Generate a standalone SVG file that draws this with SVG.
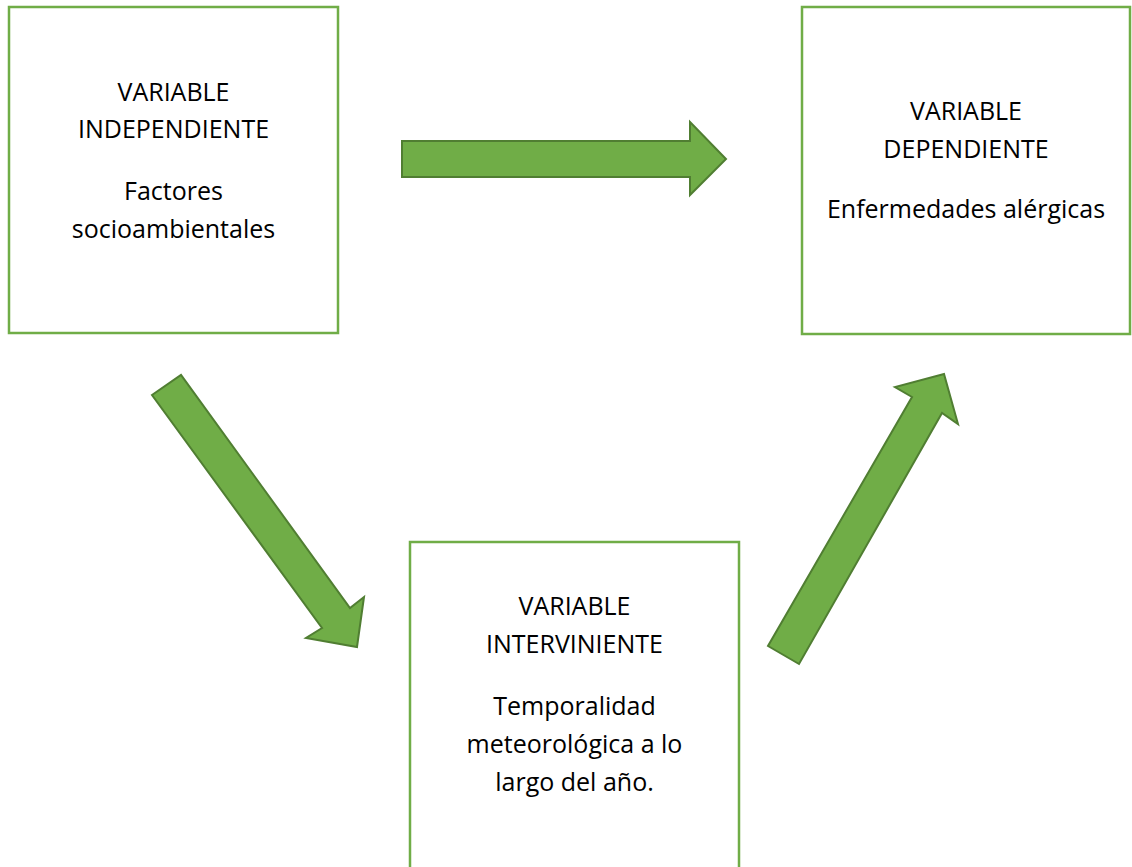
<svg xmlns="http://www.w3.org/2000/svg" width="1132" height="867" viewBox="0 0 1132 867">
<style>
.box{fill:#ffffff;stroke:#70AD47;stroke-width:2.5}
.arr{fill:#70AD47;stroke:#507E32;stroke-width:2;stroke-linejoin:miter}
text{font-family:"Open Sans","Noto Sans",sans-serif;font-size:25px;fill:#000000;text-anchor:middle}
</style>
<rect width="1132" height="867" fill="#ffffff"/>
<g id="connectors">
<polygon class="arr" points="402,141 690,141 690,122 726,159 690,195 690,177 402,177"/>
<polygon class="arr" points="152,395 181,375 350,608 364,597 357,647 306,638 322,628"/>
<polygon class="arr" points="768,646 799,664 942,413 958,424 944,374 895,387 912,397"/>
</g>
<g id="node-independiente">
<rect class="box" x="9" y="7" width="329" height="326"/>
<text x="173.5" y="101">VARIABLE</text>
<text x="173.5" y="138">INDEPENDIENTE</text>
<text x="173.5" y="200">Factores</text>
<text x="173.5" y="238">socioambientales</text>
</g>
<g id="node-dependiente">
<rect class="box" x="802" y="7" width="328" height="327"/>
<text x="966" y="120">VARIABLE</text>
<text x="966" y="158">DEPENDIENTE</text>
<text x="966" y="218">Enfermedades alérgicas</text>
</g>
<g id="node-interviniente">
<rect class="box" x="410" y="542" width="329" height="340"/>
<text x="574.5" y="615">VARIABLE</text>
<text x="574.5" y="653">INTERVINIENTE</text>
<text x="574.5" y="715">Temporalidad</text>
<text x="574.5" y="753">meteorológica a lo</text>
<text x="574.5" y="791">largo del año.</text>
</g>
</svg>
